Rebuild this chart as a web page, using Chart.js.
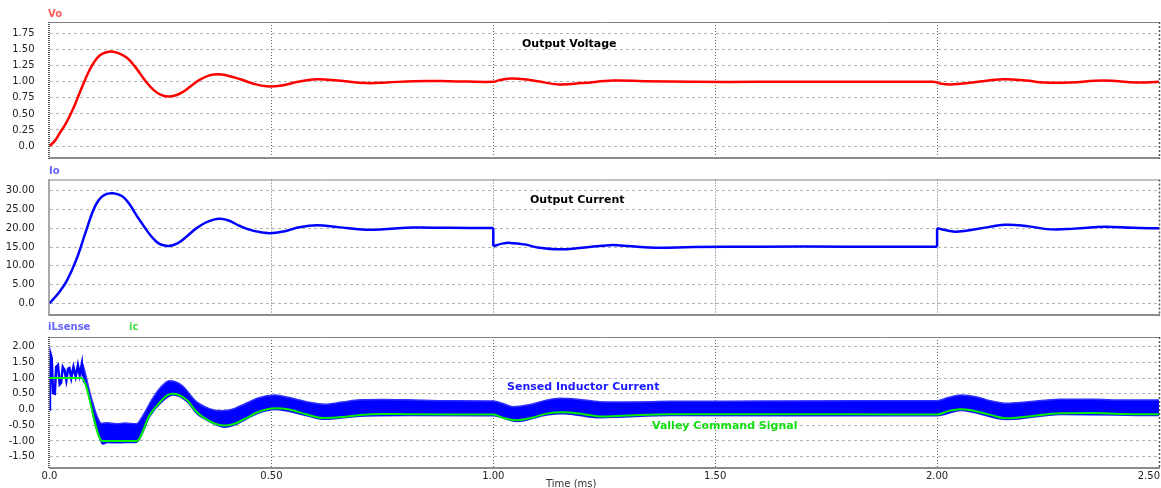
<!DOCTYPE html>
<html><head><meta charset="utf-8">
<script src="https://cdn.jsdelivr.net/npm/chart.js@4"></script>
<style>
html,body{margin:0;padding:0;background:#fff;}
#wrap{position:relative;width:1161px;height:488px;overflow:hidden;font-family:"DejaVu Sans",sans-serif;}
canvas{position:absolute;left:0;top:0;}
.lbl{position:absolute;white-space:nowrap;line-height:1;}
</style></head><body>
<div id="wrap">
<canvas id="c1" width="1161" height="488"></canvas>
<canvas id="c2" width="1161" height="488"></canvas>
<canvas id="c3" width="1161" height="488"></canvas>
<div class="lbl" style="left:48px;top:9px;font-size:10px;font-weight:bold;color:#ff5a5a;">Vo</div>
<div class="lbl" style="left:49px;top:166px;font-size:10px;font-weight:bold;color:#6464ff;">Io</div>
<div class="lbl" style="left:48px;top:322px;font-size:10px;font-weight:bold;color:#6464ff;">iLsense</div>
<div class="lbl" style="left:129px;top:322px;font-size:10px;font-weight:bold;color:#44dd44;">ic</div>
<div class="lbl" style="left:522px;top:38px;font-size:11px;font-weight:bold;color:#000;">Output Voltage</div>
<div class="lbl" style="left:530px;top:194px;font-size:11px;font-weight:bold;color:#000;">Output Current</div>
<div class="lbl" style="left:507px;top:381px;font-size:11px;font-weight:bold;color:#1a1aff;">Sensed Inductor Current</div>
<div class="lbl" style="left:652px;top:420px;font-size:11px;font-weight:bold;color:#11dd11;">Valley Command Signal</div>
<div class="lbl" style="left:546px;top:479px;font-size:10px;color:#333;">Time (ms)</div>
</div>
<script>
// ---- axis ticks ----
const xTicks = [0, 0.5, 1, 1.5, 2, 2.5];
const xTickLabels = ['0.0', '0.50', '1.00', '1.50', '2.00', '2.50'];
const voTicks = [0, 0.25, 0.5, 0.75, 1, 1.25, 1.5, 1.75];
const voTickLabels = ['0.0', '0.25', '0.50', '0.75', '1.00', '1.25', '1.50', '1.75'];
const ioTicks = [0, 5, 10, 15, 20, 25, 30];
const ioTickLabels = ['0.0', '5.00', '10.00', '15.00', '20.00', '25.00', '30.00'];
const ilTicks = [-1.5, -1, -0.5, 0, 0.5, 1, 1.5, 2];
const ilTickLabels = ['-1.50', '-1.00', '-0.50', '0.0', '0.50', '1.00', '1.50', '2.00'];

// ---- Vo (output voltage) ----
const voT = [0,0.012,0.023,0.035,0.045,0.057,0.068,0.08,0.09,0.1,0.113,0.128,0.143,0.158,0.175,0.19,0.205,0.22,0.235,0.25,0.267,0.285,0.3,0.316,0.338,0.36,0.38,0.4,0.43,0.46,0.489,0.52,0.56,0.602,0.65,0.714,0.76,0.82,0.9,1.0,1.015,1.04,1.07,1.1,1.147,1.2,1.27,1.34,1.45,1.6,1.8,1.99,2.0,2.01,2.03,2.08,2.15,2.2,2.24,2.3,2.375,2.45,2.5];
const voV = [0,0.08,0.2,0.33,0.46,0.64,0.83,1.03,1.18,1.3,1.41,1.46,1.47,1.44,1.37,1.26,1.12,0.98,0.87,0.8,0.77,0.79,0.84,0.92,1.03,1.1,1.12,1.1,1.04,0.97,0.93,0.94,1.0,1.04,1.02,0.98,0.99,1.01,1.01,1.0,1.03,1.05,1.04,1.01,0.96,0.98,1.02,1.01,1.0,1.0,1.0,1.0,0.99,0.97,0.96,0.99,1.04,1.02,0.99,0.99,1.02,0.99,1.0];

// ---- Io (output current), three load intervals ----
const ioT1 = [0,0.01,0.02,0.038,0.06,0.083,0.102,0.12,0.143,0.169,0.203,0.241,0.267,0.29,0.31,0.33,0.35,0.37,0.385,0.405,0.429,0.46,0.496,0.53,0.56,0.602,0.65,0.714,0.76,0.82,0.9,1.0];
const ioV1 = [0,1.3,2.7,5.8,11.5,19.5,25.7,28.6,29.3,28.0,22.2,16.4,15.3,16.1,17.9,19.9,21.4,22.3,22.5,22.0,20.6,19.3,18.7,19.2,20.2,20.8,20.3,19.6,19.8,20.2,20.1,20.05];
const ioT2 = [1.0,1.02,1.038,1.07,1.1,1.15,1.2,1.263,1.31,1.366,1.45,1.6,1.8,2.0];
const ioV2 = [15.2,15.9,16.1,15.7,14.9,14.4,14.8,15.5,15.2,14.8,15.0,15.1,15.1,15.1];
const ioT3 = [2.0,2.04,2.09,2.153,2.2,2.256,2.31,2.377,2.44,2.5];
const ioV3 = [20.0,19.1,19.8,20.9,20.6,19.7,19.9,20.4,20.1,20.0];

// ---- ic (valley command) ----
const icT = [0,0.072,0.119,0.196,0.226,0.25,0.265,0.278,0.29,0.31,0.331,0.355,0.375,0.395,0.415,0.44,0.47,0.508,0.54,0.58,0.617,0.66,0.70,0.75,0.805,0.9,1.0,1.025,1.053,1.09,1.12,1.158,1.2,1.24,1.3,1.4,1.6,1.8,2.0,2.025,2.053,2.08,2.12,2.158,2.2,2.278,2.35,2.42,2.5];
const icV = [1.0,1.0,-1.0,-1.0,-0.17,0.25,0.45,0.50,0.47,0.30,-0.07,-0.32,-0.46,-0.51,-0.46,-0.30,-0.08,0.04,0.0,-0.16,-0.27,-0.24,-0.17,-0.14,-0.15,-0.16,-0.16,-0.28,-0.34,-0.25,-0.13,-0.09,-0.14,-0.22,-0.19,-0.15,-0.15,-0.15,-0.16,-0.05,0.01,-0.03,-0.17,-0.28,-0.23,-0.12,-0.11,-0.14,-0.15];

// ---- iLsense: early ringing ----
const ringT = [0,0.001,0.002,0.005,0.008,0.012,0.015,0.019,0.023,0.026,0.030,0.034,0.038,0.042,0.045,0.049,0.054,0.059,0.064,0.068,0.073,0.075];
const ringV = [0,0.52,1.79,1.64,0.52,0.50,1.35,1.41,0.80,0.85,1.35,1.25,0.93,1.30,1.32,1.00,1.35,1.05,1.41,1.10,1.46,1.05];

// ---- iLsense: ripple band upper / lower envelope ----
const ilHiT = [0.075,0.08,0.09,0.1,0.106,0.117,0.13,0.15,0.17,0.196,0.21,0.23,0.25,0.27,0.285,0.3,0.331,0.36,0.384,0.41,0.44,0.47,0.508,0.54,0.579,0.62,0.66,0.70,0.75,0.805,0.9,1.0,1.02,1.045,1.08,1.12,1.15,1.19,1.24,1.3,1.4,1.6,1.8,2.0,2.025,2.053,2.09,2.12,2.158,2.2,2.278,2.35,2.42,2.5];
const ilHi = [1.45,1.2,0.6,0.1,-0.17,-0.44,-0.42,-0.45,-0.43,-0.45,-0.2,0.3,0.7,0.92,0.88,0.75,0.25,0.03,-0.04,0.0,0.18,0.37,0.46,0.38,0.25,0.17,0.24,0.31,0.32,0.31,0.28,0.27,0.2,0.09,0.15,0.3,0.36,0.33,0.25,0.24,0.26,0.27,0.28,0.28,0.38,0.46,0.4,0.28,0.2,0.24,0.33,0.33,0.3,0.3];
const ilLoT = [0.075,0.085,0.1,0.112,0.12,0.13,0.15,0.17,0.196,0.226,0.25,0.278,0.31,0.331,0.36,0.395,0.415,0.47,0.508,0.58,0.617,0.70,0.805,1.0,1.053,1.12,1.158,1.24,1.4,2.0,2.053,2.158,2.278,2.5];
const ilLo = [0.92,0.7,-0.3,-0.85,-1.1,-1.05,-1.06,-1.05,-1.04,-0.22,0.2,0.46,0.25,-0.12,-0.38,-0.56,-0.5,-0.12,0.0,-0.2,-0.31,-0.21,-0.19,-0.2,-0.38,-0.17,-0.13,-0.26,-0.19,-0.2,-0.03,-0.32,-0.16,-0.19];

const pts = (t, v) => t.map((x, i) => ({x: x, y: v[i]}));
const stepPts = (tA, vA, tB, vB) => [{x: tA[tA.length - 1], y: vA[vA.length - 1]}, {x: tB[0], y: vB[0]}];

const borderPlugin = {
  id: 'frame',
  afterDraw(chart) {
    const {ctx, chartArea: a} = chart;
    ctx.save();
    ctx.strokeStyle = '#808080'; ctx.lineWidth = 1;
    ctx.beginPath(); ctx.moveTo(a.left, a.top + 0.5); ctx.lineTo(a.right, a.top + 0.5); ctx.stroke();
    ctx.strokeStyle = '#8c8c8c'; ctx.lineWidth = 2;
    ctx.beginPath(); ctx.moveTo(a.left, a.bottom + 1); ctx.lineTo(a.right + 1, a.bottom + 1); ctx.stroke();
    ctx.strokeStyle = '#555'; ctx.lineWidth = 2; ctx.setLineDash([1, 1]);
    ctx.beginPath(); ctx.moveTo(a.left - 0.5, a.top); ctx.lineTo(a.left - 0.5, a.bottom + 2); ctx.stroke();
    ctx.setLineDash([2, 2]); ctx.lineWidth = 1.5;
    ctx.beginPath(); ctx.moveTo(a.right + 0.5, a.top); ctx.lineTo(a.right + 0.5, a.bottom + 2); ctx.stroke();
    ctx.restore();
  }
};

const xLabelPlugin = {
  id: 'xlabels',
  afterDraw(chart) {
    const {ctx} = chart;
    const xs = chart.scales.x;
    ctx.save();
    ctx.font = '10px "DejaVu Sans"';
    ctx.fillStyle = '#222';
    ctx.textBaseline = 'middle';
    xTicks.forEach((v, i) => {
      const s = xTickLabels[i];
      const w = ctx.measureText(s).width;
      let px = xs.getPixelForValue(v) - w / 2;
      if (px + w > chart.width - 1) px = chart.width - 1 - w;
      ctx.fillText(s, px, 476);
    });
    ctx.restore();
  }
};

function makeChart(id, top, bottom, yMin, yMax, yTicks, yLabels, datasets, extra) {
  return new Chart(document.getElementById(id), {
    type: 'line',
    data: {datasets: datasets},
    options: {
      responsive: false,
      animation: false,
      events: [],
      layout: {padding: {left: 0, right: 2, top: top, bottom: 488 - bottom}},
      plugins: {legend: {display: false}, tooltip: {enabled: false}},
      elements: {point: {radius: 0}},
      scales: {
        x: {
          type: 'linear', min: 0, max: 2.5,
          afterBuildTicks: s => { s.ticks = xTicks.map(v => ({value: v})); },
          afterFit: s => { s.height = 0; },
          ticks: {display: false},
          border: {display: false, dash: [1, 2]},
          grid: {drawTicks: false, lineWidth: 1,
            color: c => (c.tick && (c.tick.value === 0 || c.tick.value === 2.5)) ? 'rgba(0,0,0,0)' : '#606060'}
        },
        y: {
          type: 'linear', min: yMin, max: yMax,
          afterBuildTicks: s => { s.ticks = yTicks.map(v => ({value: v})); },
          afterFit: s => { s.width = 49.5; },
          ticks: {padding: 15, color: '#222', font: {family: 'DejaVu Sans', size: 10},
            callback: (v, i) => yLabels[i]},
          border: {display: false, dash: [3, 3]},
          grid: {drawTicks: false, color: '#b4b4b4', lineWidth: 1}
        }
      }
    },
    plugins: [borderPlugin].concat(extra || [])
  });
}

makeChart('c1', 22, 157, -0.171, 1.932, voTicks, voTickLabels, [
  {data: pts(voT, voV), borderColor: '#ff0000', borderWidth: 2.5, tension: 0.4, fill: false}
]);

const ioStyle = {borderColor: '#0000ff', borderWidth: 2.5, tension: 0.4, fill: false};
makeChart('c2', 179.5, 314, -2.85, 32.99, ioTicks, ioTickLabels, [
  Object.assign({data: pts(ioT1, ioV1)}, ioStyle),
  Object.assign({data: stepPts(ioT1, ioV1, ioT2, ioV2)}, ioStyle, {tension: 0}),
  Object.assign({data: pts(ioT2, ioV2)}, ioStyle),
  Object.assign({data: stepPts(ioT2, ioV2, ioT3, ioV3)}, ioStyle, {tension: 0}),
  Object.assign({data: pts(ioT3, ioV3)}, ioStyle)
]);

makeChart('c3', 337, 467, -1.828, 2.308, ilTicks, ilTickLabels, [
  {data: pts(ilLoT, ilLo), borderColor: '#1a1aff', borderWidth: 1.5, cubicInterpolationMode: 'monotone', fill: false, order: 3},
  {data: pts(ilHiT, ilHi), borderColor: '#3030ff', borderWidth: 1.5, cubicInterpolationMode: 'monotone', fill: '-1', backgroundColor: '#0000ff', order: 2},
  {data: pts(ringT, ringV), borderColor: '#0000ff', borderWidth: 2.5, tension: 0, fill: false, order: 1},
  {data: pts(icT, icV), borderColor: '#00ee00', borderWidth: 2, cubicInterpolationMode: 'monotone', fill: false, order: 0}
], [xLabelPlugin]);
</script>
</body></html>
